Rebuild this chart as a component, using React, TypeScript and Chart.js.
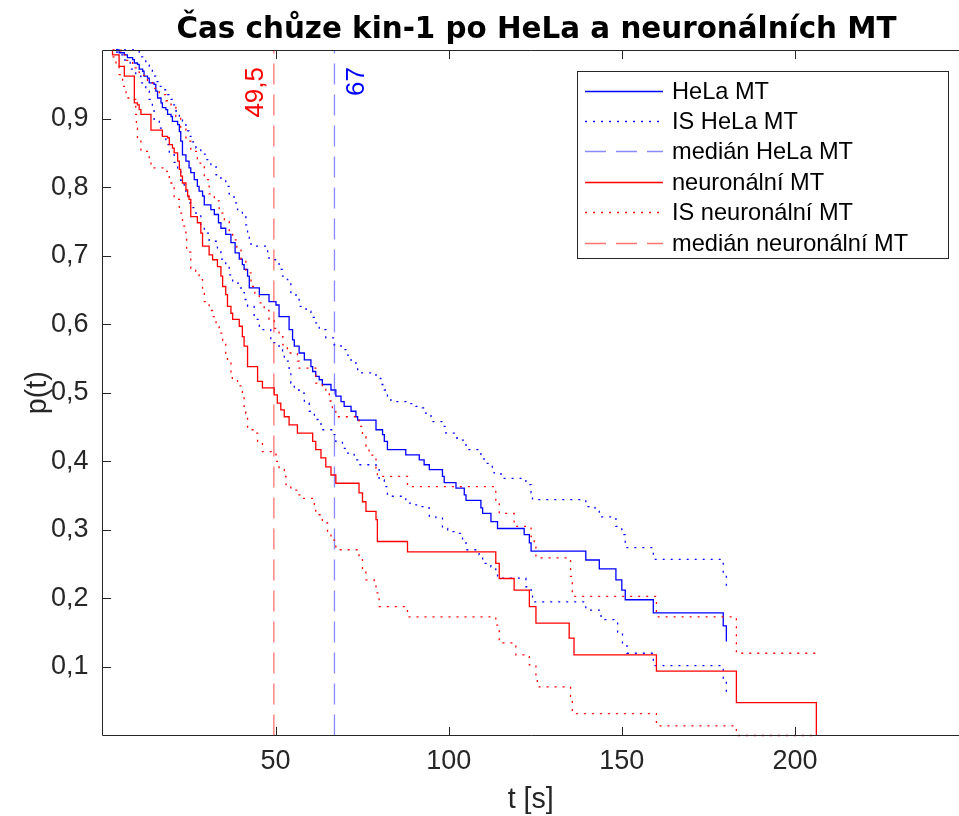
import React, { useEffect, useRef } from "react";
import { Chart, registerables } from "chart.js";

Chart.register(...registerables);

// ---- data: [t (s), p(t)] step points ----
const helaKM: number[][] = [
  [3.9, 1], [4.8, 0.996], [6.3, 0.993], [7.2, 0.989], [8.7, 0.986], [9.2, 0.981], [10.1, 0.979], [10.6, 0.972],
  [11.6, 0.969], [12.0, 0.962], [13.0, 0.959], [13.5, 0.952], [14.9, 0.95], [15.4, 0.94], [15.9, 0.93], [16.9, 0.923],
  [17.3, 0.916], [18.3, 0.913], [18.8, 0.906], [19.8, 0.903], [20.2, 0.896], [21.7, 0.891], [22.2, 0.881], [22.6, 0.867],
  [23.1, 0.847], [24.1, 0.838], [25.0, 0.828], [25.5, 0.821], [26.5, 0.811], [27.4, 0.801], [27.9, 0.794], [28.9, 0.787],
  [29.4, 0.774], [31.3, 0.767], [32.3, 0.76], [33.5, 0.748], [34.2, 0.74], [35.6, 0.731], [37.1, 0.719], [38.3, 0.704],
  [39.5, 0.695], [40.4, 0.687], [40.9, 0.68], [41.9, 0.67], [42.4, 0.653], [45.3, 0.643], [48.1, 0.633], [50.1, 0.628],
  [51.0, 0.611], [53.9, 0.592], [54.9, 0.577], [55.4, 0.568], [56.8, 0.558], [58.3, 0.548], [60.2, 0.538], [60.7, 0.531],
  [61.6, 0.524], [62.6, 0.519], [63.5, 0.512], [66.0, 0.504], [67.4, 0.495], [68.9, 0.487], [69.8, 0.48], [71.8, 0.473],
  [73.2, 0.465], [73.7, 0.46], [79.0, 0.446], [80.9, 0.439], [81.4, 0.429], [82.3, 0.417], [87.6, 0.4095], [91.5, 0.402],
  [92.9, 0.395], [94.4, 0.388], [98.2, 0.378], [98.7, 0.369], [102.1, 0.361], [104.5, 0.351], [105.0, 0.343], [109.3, 0.332],
  [109.8, 0.324], [112.2, 0.312], [114.1, 0.302], [121.8, 0.293], [123.3, 0.281], [123.8, 0.269], [139.6, 0.256],
  [143.5, 0.243], [148.3, 0.227], [150.0, 0.212], [151.0, 0.198], [159.1, 0.179], [179.3, 0.16], [180.2, 0.137],
];

const helaUpper: number[][] = [
  [3.9, 1], [9.6, 0.998], [10.6, 0.99], [11.6, 0.986], [12.5, 0.978], [13.5, 0.972], [14.4, 0.962], [15.4, 0.954],
  [16.4, 0.947], [17.8, 0.942], [18.8, 0.935], [19.8, 0.928], [20.2, 0.92], [21.2, 0.911], [22.2, 0.9], [23.1, 0.891],
  [24.1, 0.882], [25.0, 0.874], [26.0, 0.866], [27.0, 0.857], [28.4, 0.848], [29.9, 0.84], [31.3, 0.83], [32.8, 0.818],
  [34.2, 0.81], [35.6, 0.801], [36.6, 0.79], [38.0, 0.777], [39.0, 0.767], [40.4, 0.757], [41.4, 0.745], [41.9, 0.733],
  [42.4, 0.721], [42.9, 0.714], [47.7, 0.704], [48.1, 0.694], [51.0, 0.68], [52.0, 0.67], [53.4, 0.665], [54.4, 0.643],
  [55.9, 0.636], [56.8, 0.626], [58.8, 0.619], [60.2, 0.61], [61.2, 0.602], [62.6, 0.592], [64.5, 0.58], [66.9, 0.57],
  [68.9, 0.563], [70.3, 0.555], [71.8, 0.546], [73.2, 0.538], [73.7, 0.529], [79.0, 0.521], [80.4, 0.512], [81.4, 0.504],
  [82.3, 0.495], [83.3, 0.487], [87.6, 0.484], [90.5, 0.48], [92.4, 0.478], [93.4, 0.47], [94.9, 0.458], [98.2, 0.451],
  [99.2, 0.441], [102.1, 0.434], [104.0, 0.431], [105.0, 0.417], [109.3, 0.405], [110.2, 0.397], [112.6, 0.388],
  [113.1, 0.383], [115.1, 0.375], [122.3, 0.366], [123.8, 0.354], [124.2, 0.344], [139.6, 0.334], [142.1, 0.332],
  [143.5, 0.319], [148.3, 0.305], [150.0, 0.293], [151.0, 0.274], [159.1, 0.257], [179.3, 0.235], [180.2, 0.218],
];

const helaLower: number[][] = [
  [3.9, 0.997], [5.1, 0.993], [6.5, 0.982], [8.0, 0.972], [9.6, 0.962], [11.1, 0.952], [12.5, 0.94], [13.5, 0.928],
  [14.4, 0.913], [14.9, 0.899], [16.4, 0.886], [17.3, 0.874], [18.3, 0.862], [19.3, 0.85], [20.7, 0.836], [21.7, 0.823],
  [22.6, 0.81], [23.6, 0.796], [24.1, 0.786], [25.0, 0.777], [25.5, 0.77], [27.0, 0.758], [28.4, 0.743], [29.4, 0.733],
  [30.8, 0.721], [33.2, 0.706], [34.2, 0.695], [35.6, 0.684], [36.6, 0.672], [37.6, 0.66], [40.0, 0.646], [41.0, 0.636],
  [41.9, 0.626], [43.8, 0.607], [45.3, 0.592], [48.6, 0.573], [51.0, 0.563], [52.0, 0.553], [52.5, 0.546], [53.9, 0.531],
  [54.4, 0.514], [55.4, 0.504], [56.8, 0.4995], [58.3, 0.485], [59.7, 0.473], [61.2, 0.461], [63.1, 0.446], [66.9, 0.439],
  [67.4, 0.429], [69.3, 0.419], [70.8, 0.412], [72.7, 0.402], [73.7, 0.395], [79.0, 0.388], [79.9, 0.373], [81.4, 0.363],
  [82.3, 0.349], [87.6, 0.339], [89.5, 0.3365], [91.0, 0.334], [92.9, 0.332], [94.4, 0.319], [96.3, 0.317], [98.2, 0.302],
  [99.7, 0.2975], [102.1, 0.295], [104.0, 0.285], [105.0, 0.271], [108.8, 0.2635], [109.8, 0.251], [112.2, 0.246],
  [113.6, 0.237], [114.1, 0.2295], [122.3, 0.217], [123.8, 0.2075], [124.2, 0.195], [139.6, 0.183], [143.5, 0.181],
  [144.0, 0.169], [148.8, 0.151], [150.2, 0.135], [151.5, 0.12], [159.1, 0.102], [179.3, 0.081], [180.2, 0.062],
];

const neuroKM: number[][] = [
  [2.9, 1], [2.9, 0.993], [4.8, 0.976], [6.3, 0.962], [9.2, 0.923], [10.1, 0.92], [10.6, 0.913], [11.1, 0.906],
  [14.0, 0.883], [17.3, 0.874], [18.8, 0.872], [19.3, 0.862], [20.2, 0.857], [20.7, 0.85], [21.7, 0.838], [22.2, 0.826],
  [22.6, 0.816], [23.1, 0.806], [24.1, 0.796], [24.6, 0.787], [25.0, 0.782], [25.5, 0.757], [27.4, 0.748], [28.4, 0.733],
  [28.9, 0.714], [30.8, 0.701], [31.8, 0.694], [33.2, 0.684], [34.2, 0.67], [34.7, 0.655], [35.6, 0.643], [36.1, 0.626],
  [37.1, 0.616], [37.6, 0.607], [39.5, 0.597], [40.4, 0.582], [40.9, 0.568], [41.9, 0.538], [44.8, 0.5165], [46.2, 0.507],
  [49.6, 0.497], [50.5, 0.485], [51.5, 0.475], [52.5, 0.465], [53.9, 0.453], [56.3, 0.441], [60.7, 0.429], [61.6, 0.417],
  [63.1, 0.405], [64.5, 0.392], [66.0, 0.38], [67.4, 0.368], [74.1, 0.354], [75.1, 0.341], [76.1, 0.327], [79.0, 0.315],
  [79.4, 0.283], [88.1, 0.268], [113.6, 0.251], [114.6, 0.229], [118.9, 0.212], [123.3, 0.188], [125.2, 0.164],
  [134.8, 0.142], [136.2, 0.1175], [160.0, 0.094], [183.1, 0.048], [206.2, 0],
];

const neuroUpper: number[][] = [
  [2.9, 1], [5.3, 0.993], [7.0, 0.985], [8.7, 0.974], [10.6, 0.963], [13.0, 0.952], [14.5, 0.944], [16.4, 0.935],
  [18.3, 0.926], [19.8, 0.918], [21.2, 0.903], [22.6, 0.886], [24.1, 0.867], [25.5, 0.852], [27.4, 0.835], [29.4, 0.811],
  [30.8, 0.79], [32.3, 0.78], [33.7, 0.762], [35.2, 0.75], [36.6, 0.735], [37.6, 0.723], [38.8, 0.708], [40.0, 0.694],
  [41.4, 0.675], [42.9, 0.655], [44.0, 0.643], [45.3, 0.631], [46.7, 0.62], [48.1, 0.607], [49.6, 0.594], [51.0, 0.582],
  [52.1, 0.57], [53.4, 0.558], [56.3, 0.546], [56.8, 0.536], [61.6, 0.514], [63.5, 0.509], [64.5, 0.4995], [65.5, 0.488],
  [66.4, 0.475], [67.4, 0.465], [74.1, 0.451], [75.1, 0.436], [76.1, 0.422], [77.0, 0.409], [79.0, 0.39], [79.4, 0.378],
  [88.1, 0.363], [113.6, 0.34], [114.6, 0.324], [118.9, 0.305], [123.8, 0.29], [124.7, 0.281], [125.2, 0.259],
  [135.2, 0.232], [135.7, 0.203], [160.0, 0.173], [183.1, 0.12], [206.2, 0.12],
];

const neuroLower: number[][] = [
  [2.9, 0.99], [3.9, 0.979], [4.8, 0.964], [5.8, 0.947], [6.8, 0.93], [9.2, 0.928], [9.6, 0.906], [9.8, 0.886],
  [10.1, 0.867], [11.1, 0.852], [13.5, 0.838], [14.0, 0.828], [17.8, 0.823], [19.3, 0.806], [20.7, 0.782], [22.2, 0.762],
  [23.1, 0.743], [24.1, 0.725], [24.3, 0.705], [25.5, 0.682], [26.9, 0.675], [27.9, 0.665], [28.9, 0.645], [29.4, 0.633],
  [30.8, 0.62], [31.8, 0.611], [32.8, 0.6], [33.7, 0.587], [34.7, 0.572], [35.6, 0.555], [36.1, 0.545], [37.1, 0.529],
  [37.5, 0.519], [39.0, 0.51], [40.4, 0.497], [40.9, 0.48], [41.4, 0.47], [41.9, 0.446], [44.3, 0.441], [44.8, 0.429],
  [46.2, 0.414], [50.1, 0.4], [51.0, 0.388], [52.5, 0.378], [53.0, 0.366], [54.4, 0.358], [56.3, 0.351], [57.3, 0.346],
  [61.2, 0.334], [61.6, 0.322], [63.5, 0.31], [65.0, 0.295], [66.0, 0.285], [67.4, 0.271], [74.1, 0.259], [75.1, 0.242],
  [76.1, 0.227], [78.5, 0.22], [79.0, 0.208], [79.9, 0.188], [88.1, 0.173], [113.6, 0.161], [114.6, 0.135],
  [119.4, 0.1175], [123.3, 0.103], [125.2, 0.086], [125.6, 0.071], [135.2, 0.057], [135.7, 0.032], [160.0, 0.014],
  [183.1, 0], [206.2, 0],
];

const medianHela = 67;
const medianNeuro = 49.5;
const medianLabels = ["67", "49,5"];
const xTicks = [50, 100, 150, 200];
const yTicks = [0.1, 0.2, 0.3, 0.4, 0.5, 0.6, 0.7, 0.8, 0.9];
const legendLabels = [
  "HeLa MT",
  "IS HeLa MT",
  "medián HeLa MT",
  "neuronální MT",
  "IS neuronální MT",
  "medián neuronální MT",
];
const titleText = "Čas chůze kin-1 po HeLa a neuronálních MT";
const xLabel = "t [s]";
const yLabel = "p(t)";

const BLUE = "#0000ff";
const RED = "#ff0000";
const BLUE_MED = "rgba(60,60,255,0.6)";
const RED_MED = "rgba(255,40,40,0.65)";
const AXIS = "#262626";
const SANS = "'Liberation Sans', Arial, Helvetica, sans-serif";
const DOT = [2, 6];
const DASH = [21, 10];
const LW = 1.3;

const toXY = (arr: number[][]) => arr.map(([x, y]) => ({ x, y }));

const styles = [
  { color: BLUE, dash: [] as number[] },
  { color: BLUE, dash: DOT },
  { color: BLUE_MED, dash: DASH },
  { color: RED, dash: [] as number[] },
  { color: RED, dash: DOT },
  { color: RED_MED, dash: DASH },
];

const framePlugin = {
  id: "frame",
  afterDatasetsDraw(chart: any) {
    const { ctx, chartArea, scales } = chart;
    const { left, right, top, bottom } = chartArea;
    const L = Math.floor(left) + 0.5;
    const T = Math.floor(top) + 0.5;
    const B = Math.floor(bottom) + 0.5;
    const tl = 8.6;
    ctx.save();
    ctx.strokeStyle = AXIS;
    ctx.lineWidth = 1;
    ctx.setLineDash([]);
    ctx.beginPath();
    ctx.moveTo(L, T);
    ctx.lineTo(right + 2, T);
    ctx.moveTo(L, T);
    ctx.lineTo(L, B);
    ctx.lineTo(right + 2, B);
    xTicks.forEach((v) => {
      const x = Math.round(scales.x.getPixelForValue(v)) + 0.5;
      ctx.moveTo(x, B);
      ctx.lineTo(x, B - tl);
      ctx.moveTo(x, T);
      ctx.lineTo(x, T + tl);
    });
    yTicks.forEach((v) => {
      const y = Math.round(scales.y.getPixelForValue(v)) + 0.5;
      ctx.moveTo(L, y);
      ctx.lineTo(L + tl, y);
    });
    ctx.stroke();

    // median labels
    ctx.font = `26px ${SANS}`;
    ctx.textAlign = "right";
    ctx.textBaseline = "alphabetic";
    const labs = [
      { v: medianHela, dx: 30, color: "#0000ff", text: medianLabels[0] },
      { v: medianNeuro, dx: -11, color: "#ff0000", text: medianLabels[1] },
    ];
    labs.forEach((l) => {
      const x = scales.x.getPixelForValue(l.v) + l.dx;
      ctx.save();
      ctx.translate(x, 67);
      ctx.rotate(-Math.PI / 2);
      ctx.fillStyle = l.color;
      ctx.fillText(l.text, 0, 0);
      ctx.restore();
    });
    ctx.restore();
  },
  afterDraw(chart: any) {
    const { ctx, chartArea } = chart;
    ctx.save();
    // title
    ctx.fillStyle = "#000";
    ctx.font = `bold 29.4px 'DejaVu Sans', sans-serif`;
    ctx.textAlign = "center";
    ctx.textBaseline = "alphabetic";
    ctx.fillText(titleText, 536.5, 38);
    // axis labels
    ctx.fillStyle = AXIS;
    ctx.font = `28.6px ${SANS}`;
    ctx.textBaseline = "middle";
    ctx.fillText(xLabel, (chartArea.left + chartArea.right) / 2, 800);
    ctx.save();
    ctx.translate(38, (chartArea.top + chartArea.bottom) / 2);
    ctx.rotate(-Math.PI / 2);
    ctx.fillText(yLabel, 0, 0);
    ctx.restore();

    // legend
    const bx = 577.5, by = 71.5, bw = 371, bh = 187;
    ctx.fillStyle = "#fff";
    ctx.fillRect(bx, by, bw, bh);
    ctx.strokeStyle = AXIS;
    ctx.lineWidth = 1;
    ctx.setLineDash([]);
    ctx.strokeRect(bx, by, bw, bh);
    ctx.font = `23.6px ${SANS}`;
    ctx.textAlign = "left";
    ctx.textBaseline = "middle";
    legendLabels.forEach((lab, i) => {
      const y = Math.round(90.5 + i * 30.4) + 0.5;
      const st = styles[i];
      ctx.strokeStyle = st.color;
      ctx.lineWidth = LW;
      ctx.setLineDash(st.dash);
      ctx.beginPath();
      ctx.moveTo(585, y);
      ctx.lineTo(663, y);
      ctx.stroke();
      ctx.setLineDash([]);
      ctx.fillStyle = "#000";
      ctx.fillText(lab, 672, y + 1);
    });
    ctx.restore();
  },
};

export default function App() {
  const ref = useRef<HTMLCanvasElement | null>(null);
  useEffect(() => {
    if (!ref.current) return;
    const series = [
      toXY(helaKM),
      toXY(helaUpper),
      toXY([[medianHela, 0], [medianHela, 1]]),
      toXY(neuroKM),
      toXY(neuroUpper),
      toXY([[medianNeuro, 0], [medianNeuro, 1]]),
    ];
    const lowers = [toXY(helaLower), toXY(neuroLower)];
    const datasets: any[] = [];
    const mk = (data: any[], st: any, order: number, stepped: boolean) => ({
      data,
      borderColor: st.color,
      borderDash: st.dash,
      borderWidth: LW,
      pointRadius: 0,
      fill: false,
      stepped: stepped ? "before" : false,
      tension: 0,
      clip: false,
      order,
    });
    datasets.push(mk(series[0], styles[0], 10, true));
    datasets.push(mk(series[1], styles[1], 9, true));
    datasets.push(mk(lowers[0], styles[1], 9, true));
    datasets.push(mk(series[2], styles[2], 8, false));
    datasets.push(mk(series[3], styles[3], 7, true));
    datasets.push(mk(series[4], styles[4], 6, true));
    datasets.push(mk(lowers[1], styles[4], 6, true));
    datasets.push(mk(series[5], styles[5], 5, false));

    const chart = new Chart(ref.current, {
      type: "line",
      data: { datasets },
      options: {
        responsive: false,
        animation: false,
        devicePixelRatio: 1,
        parsing: false,
        normalized: true,
        layout: { padding: { top: 50, left: 0, right: 0, bottom: 0 } },
        plugins: {
          legend: { display: false },
          title: { display: false },
          tooltip: { enabled: false },
        },
        scales: {
          x: {
            type: "linear",
            min: 0,
            max: 247.4,
            grid: { display: false, drawTicks: false },
            border: { display: false },
            ticks: {
              color: AXIS,
              font: { family: SANS, size: 27 },
              padding: 10,
              maxRotation: 0,
              autoSkip: false,
              callback: (v: any) => String(v),
            },
            afterBuildTicks: (s: any) => {
              s.ticks = xTicks.map((v) => ({ value: v }));
            },
            afterFit: (s: any) => {
              s.height = 80.5;
            },
          },
          y: {
            type: "linear",
            min: 0,
            max: 1,
            grid: { display: false, drawTicks: false },
            border: { display: false },
            ticks: {
              color: AXIS,
              font: { family: SANS, size: 27 },
              padding: 14,
              autoSkip: false,
              callback: (v: any) => Number(v).toFixed(1).replace(".", ","),
            },
            afterBuildTicks: (s: any) => {
              s.ticks = yTicks.map((v) => ({ value: v }));
            },
            afterFit: (s: any) => {
              s.width = 102.5;
            },
          },
        },
      } as any,
      plugins: [framePlugin],
    });
    return () => chart.destroy();
  }, []);

  return (
    <div style={{ position: "fixed", left: 0, top: 0, width: 959, height: 816, background: "#fff" }}>
      <canvas ref={ref} width={959} height={816} style={{ display: "block" }} />
    </div>
  );
}
